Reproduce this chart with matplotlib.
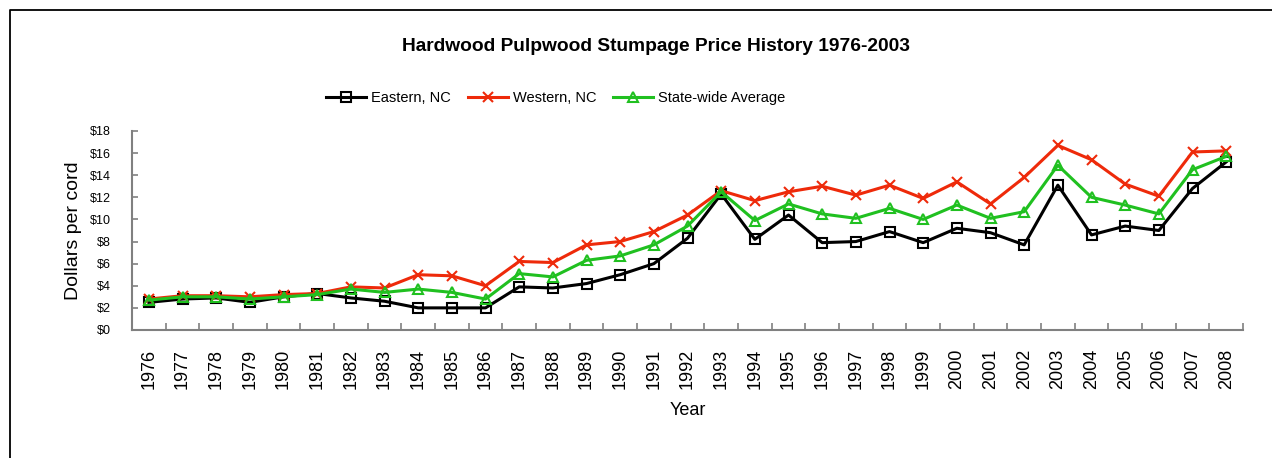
import numpy as np
import matplotlib
matplotlib.use("Agg")
from matplotlib import pyplot as plt
from matplotlib.lines import Line2D

plt.rcParams['font.family'] = ['Liberation Sans', 'DejaVu Sans']

years = list(range(1976, 2009))
eastern = [2.5, 2.8, 2.9, 2.5, 3.0, 3.3, 2.9, 2.6, 2.0, 2.0, 2.0, 3.9, 3.8, 4.2, 5.0, 6.0, 8.3,
           12.3, 8.2, 10.4, 7.9, 8.0, 8.9, 7.9, 9.2, 8.8, 7.7, 13.1, 8.6, 9.4, 9.0, 12.8, 15.2]
western = [2.8, 3.1, 3.1, 3.0, 3.2, 3.3, 3.9, 3.8, 5.0, 4.9, 4.0, 6.2, 6.1, 7.7, 8.0, 8.9, 10.4,
           12.6, 11.7, 12.5, 13.0, 12.2, 13.1, 11.9, 13.4, 11.4, 13.8, 16.7, 15.4, 13.2, 12.1, 16.1, 16.2]
average = [2.7, 3.0, 3.0, 2.8, 3.0, 3.2, 3.7, 3.4, 3.7, 3.4, 2.8, 5.1, 4.8, 6.3, 6.7, 7.7, 9.4,
           12.5, 9.9, 11.4, 10.5, 10.1, 11.0, 10.0, 11.3, 10.1, 10.7, 14.9, 12.0, 11.3, 10.5, 14.5, 15.7]
y_ticks = list(range(0, 20, 2))

fig = plt.figure(figsize=(12.72, 4.58), dpi=100)
ax = fig.add_axes([0.1038, 0.2795, 0.8734, 0.4345])

x = np.arange(len(years))
ax.plot(x, eastern, color="black", lw=2.2, marker="s", ms=7.5, mfc="none", mew=1.5, label="Eastern, NC")
ax.plot(x, western, color="#ee2a0a", lw=2.2, marker="x", ms=7.5, mew=1.5, label="Western, NC")
ax.plot(x, average, color="#20c020", lw=2.2, marker="^", ms=7.5, mfc="none", mew=1.5, label="State-wide Average")

ax.set_xlim(-0.5, len(years) - 0.5)
ax.set_ylim(0, 18)
ax.set_yticks(y_ticks)
ax.set_yticklabels(["$" + str(v) for v in y_ticks], fontsize=9)
ax.set_xticks(x)
ax.set_xticklabels([str(y) for y in years], rotation=90, fontsize=13)
ax.set_xticks(np.arange(len(years) + 1) - 0.5, minor=True)
ax.tick_params(axis="x", which="major", length=0, pad=13.5)
ax.tick_params(axis="x", which="minor", direction="in", length=5, width=1.2, color="#808080")
ax.tick_params(axis="y", direction="in", length=4, width=1.2, color="#808080", pad=15)

for s in ["top", "right"]:
    ax.spines[s].set_visible(False)
for s in ["left", "bottom"]:
    ax.spines[s].set_color("#808080")
    ax.spines[s].set_linewidth(1.5)

ax.set_ylabel("Dollars per cord", fontsize=14, labelpad=6)
ax.set_xlabel("Year", fontsize=13, labelpad=9)

fig.text(0.5157, 0.899, "Hardwood Pulpwood Stumpage Price History 1976-2003",
         ha="center", va="center", fontsize=13.8, fontweight="bold")
fig.legend(loc="center", bbox_to_anchor=(0.437, 0.786), ncol=3, frameon=False,
           fontsize=10.5, handlelength=2.75, columnspacing=1.15, handletextpad=0.35,
           borderpad=0, borderaxespad=0)

# figure border (left and top)
fig.add_artist(Line2D([0.0075, 0.0075, 1.0], [0.0, 0.978, 0.978], color="black", lw=1.3,
                      transform=fig.transFigure))

fig.savefig("out.png", dpi=100)
